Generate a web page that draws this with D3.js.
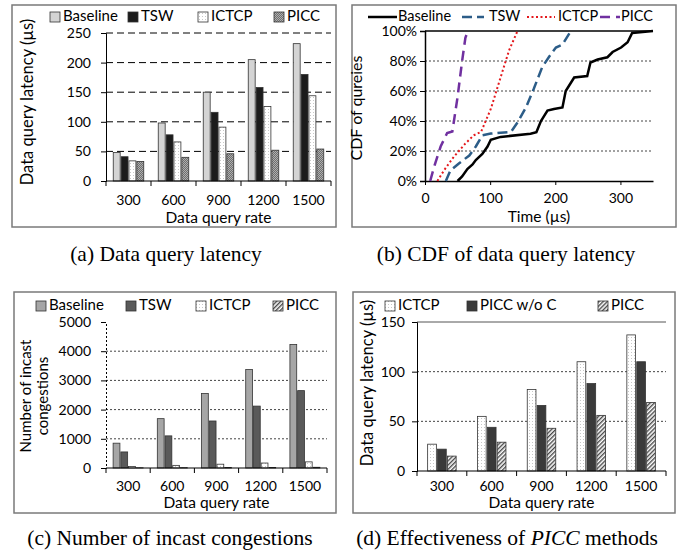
<!DOCTYPE html>
<html>
<head>
<meta charset="utf-8">
<script src="https://cdn.jsdelivr.net/npm/d3@7"></script>
<style>
  body { margin: 0; background: #fff; }
  svg text { font-family: Lato, "Open Sans", sans-serif; fill: #000; }
  .cap { font-family: "Liberation Serif", "DejaVu Serif", serif; font-size: 21.5px; }
</style>
</head>
<body>
<svg id="fig" width="688" height="554"></svg>
<script>
// ---------- data ----------
const rates = ["300", "600", "900", "1200", "1500"];

// (a) data query latency (us)
const latBaseline = [48, 98, 150, 205, 232];
const latTSW = [41, 78, 116, 158, 180];
const latICTCP = [34, 66, 91, 126, 144];
const latPICC = [33, 40, 46, 52, 54];

// (b) CDF points [time us, percent]
const cdfBaseline = [[50,0],[57,3],[65,8],[73,11],[78,14],[88,18],[96,23],[101,27.5],[116,29.4],[162,31.5],[171,32.5],[178,40],[188,47],[198,48],[211,49],[216,60],[229,69],[249,70],[254,79],[265,81],[280,82.5],[288,86],[301,89],[311,92.5],[318,98.7],[350,100]];
const cdfTSW = [[32,0],[39,7],[52,11.7],[68,17],[78,23],[88,30.5],[101,31.6],[132,32.7],[142,39],[155,49],[167,61.5],[180,76],[190,82.5],[201,89],[211,91],[224,100]];
const cdfICTCP = [[19,0],[29,7],[44,16],[62,25],[75,30.5],[86,32.7],[101,48],[116,69],[129,87],[142,100]];
const cdfPICC = [[8,0],[14,9.5],[24,23],[34,32],[42,33],[50,56],[57,80],[62,95.5],[66,100]];

// (c) number of incast congestions
const incBaseline = [850, 1690, 2550, 3370, 4230];
const incTSW = [550, 1100, 1610, 2120, 2650];
const incICTCP = [50, 90, 130, 170, 210];
const incPICC = [8, 12, 16, 20, 25];

// (d) effectiveness of PICC
const effICTCP = [27, 55, 82, 110, 137];
const effPICCwoC = [22, 44, 66, 88, 110];
const effPICC = [15, 29, 43, 56, 69];

const latTicks = [0, 50, 100, 150, 200, 250];
const cdfTicksY = [0, 20, 40, 60, 80, 100];
const cdfTicksX = [0, 100, 200, 300];
const incTicks = [0, 1000, 2000, 3000, 4000, 5000];
const effTicks = [0, 50, 100, 150];

const svg = d3.select("#fig");
const defs = svg.append("defs");

// ---------- patterns ----------
function dotPattern(id) {
  const p = defs.append("pattern").attr("id", id).attr("patternUnits", "userSpaceOnUse")
    .attr("width", 3).attr("height", 3);
  p.append("rect").attr("width", 3).attr("height", 3).attr("fill", "#fff");
  p.append("rect").attr("x", 1).attr("y", 1).attr("width", 1).attr("height", 1).attr("fill", "#c8c8c8");
}
function checkPattern(id) {
  const p = defs.append("pattern").attr("id", id).attr("patternUnits", "userSpaceOnUse")
    .attr("width", 2).attr("height", 2);
  p.append("rect").attr("width", 2).attr("height", 2).attr("fill", "#6e6e6e");
  p.append("rect").attr("width", 1).attr("height", 1).attr("fill", "#b0b0b0");
  p.append("rect").attr("x", 1).attr("y", 1).attr("width", 1).attr("height", 1).attr("fill", "#b0b0b0");
}
function hatchPattern(id) {
  const p = defs.append("pattern").attr("id", id).attr("patternUnits", "userSpaceOnUse")
    .attr("width", 3).attr("height", 3).attr("patternTransform", "rotate(45)");
  p.append("rect").attr("width", 3).attr("height", 3).attr("fill", "#fff");
  p.append("rect").attr("width", 1.4).attr("height", 3).attr("fill", "#4a4a4a");
}
dotPattern("dots");
checkPattern("check");
hatchPattern("hatch");

// ---------- frames ----------
function frame(x, y, w, h) {
  svg.append("rect").attr("x", x).attr("y", y).attr("width", w).attr("height", h)
    .attr("fill", "none").attr("stroke", "#7a7a7a").attr("stroke-width", 1.5);
}

function caption(x, y, parts) {
  const t = svg.append("text").attr("class", "cap").attr("x", x).attr("y", y).attr("text-anchor", "middle");
  parts.forEach(p => {
    t.append("tspan").text(p[0]).style("font-style", p[1] ? "italic" : "normal");
  });
}

// ---------- grouped bar chart ----------
function barChart(cfg) {
  const g = svg.append("g");
  const x = d3.scaleBand().domain(rates).range([cfg.x0, cfg.x1])
    .paddingInner(cfg.padIn).paddingOuter(cfg.padOut);
  const sub = d3.scaleBand().domain(cfg.series.map(s => s.name)).range([0, x.bandwidth()]).padding(0.12);
  const y = d3.scaleLinear().domain(cfg.domain).range([cfg.y0, cfg.y1]);

  // grid
  cfg.gridVals.forEach(v => {
    g.append("line").attr("x1", cfg.x0).attr("x2", cfg.x1).attr("y1", y(v)).attr("y2", y(v))
      .attr("stroke", cfg.gridColor).attr("stroke-width", 1).attr("stroke-dasharray", cfg.gridDash);
  });
  if (cfg.topLine) {
    g.append("line").attr("x1", cfg.x0).attr("x2", cfg.x1).attr("y1", y(cfg.domain[1])).attr("y2", y(cfg.domain[1]))
      .attr("stroke", cfg.topLine).attr("stroke-width", 1);
  }

  // bars
  cfg.series.forEach(s => {
    g.selectAll(null).data(s.values).join("rect")
      .attr("x", (d, i) => x(rates[i]) + sub(s.name))
      .attr("y", d => y(d))
      .attr("width", sub.bandwidth())
      .attr("height", d => y(0) - y(d))
      .attr("fill", s.fill)
      .attr("stroke", "#333").attr("stroke-width", 0.8);
  });

  // y axis
  const ya = g.append("g").attr("transform", `translate(${cfg.x0},0)`)
    .call(d3.axisLeft(y).tickValues(cfg.ticks).tickSize(5).tickPadding(cfg.tickPad).tickFormat(cfg.fmt || d3.format("d")));
  ya.select(".domain").attr("stroke", "#000").attr("stroke-dasharray", cfg.yDash || null);
  ya.selectAll("text").style("font-size", "14px");

  // x axis with ticks at band boundaries
  g.append("line").attr("x1", cfg.x0).attr("x2", cfg.x1).attr("y1", y(0)).attr("y2", y(0)).attr("stroke", "#000");
  const step = (cfg.x1 - cfg.x0) / rates.length;
  d3.range(rates.length + 1).forEach(i => {
    g.append("line").attr("x1", cfg.x0 + i * step).attr("x2", cfg.x0 + i * step)
      .attr("y1", y(0)).attr("y2", y(0) + 5).attr("stroke", "#000");
  });
  g.selectAll(null).data(rates).join("text")
    .attr("x", d => x(d) + x.bandwidth() / 2).attr("y", cfg.tickLabelY)
    .attr("text-anchor", "middle").attr("dominant-baseline", "middle")
    .style("font-size", "14px").text(d => d);

  // titles
  g.append("text").attr("x", (cfg.x0 + cfg.x1) / 2).attr("y", cfg.xLabelY)
    .attr("text-anchor", "middle").attr("dominant-baseline", "middle")
    .style("font-size", "15.5px").text("Data query rate");
  cfg.yLabel.forEach((line, i) => {
    g.append("text").attr("transform", `translate(${cfg.yLabelX[i]},${cfg.yLabelY}) rotate(-90)`)
      .attr("text-anchor", "middle").attr("dominant-baseline", "middle")
      .style("font-size", cfg.yLabelSize || "16.5px").text(line);
  });

  // legend
  cfg.series.forEach((s, i) => {
    g.append("rect").attr("x", cfg.legX[i]).attr("y", cfg.legY - 5).attr("width", 10).attr("height", 10)
      .attr("fill", s.fill).attr("stroke", "#333").attr("stroke-width", 0.8);
    g.append("text").attr("x", cfg.legX[i] + 13).attr("y", cfg.legY)
      .attr("dominant-baseline", "middle").style("font-size", "15px").text(s.name);
  });
}

// ---------- (a) ----------
frame(12, 5, 324, 222);
barChart({
  x0: 106, x1: 331, y0: 181, y1: 33, domain: [0, 250], ticks: latTicks,
  padIn: 0.28, padOut: 0.14, tickPad: 10,
  gridVals: [50, 100, 150, 200, 250], gridDash: "7,4", gridColor: "#000",
  series: [
    { name: "Baseline", values: latBaseline, fill: "#d4d4d4" },
    { name: "TSW", values: latTSW, fill: "#1c1c1c" },
    { name: "ICTCP", values: latICTCP, fill: "url(#dots)" },
    { name: "PICC", values: latPICC, fill: "url(#check)" }
  ],
  tickLabelY: 201, xLabelY: 219,
  yLabel: ["Data query latency (µs)"], yLabelX: [29], yLabelY: 102,
  legX: [50, 128, 198, 274], legY: 17
});

// ---------- (b) CDF ----------
frame(352, 5, 324, 222);
{
  const g = svg.append("g");
  const x = d3.scaleLinear().domain([0, 350]).range([425, 653]);
  const y = d3.scaleLinear().domain([0, 100]).range([181, 31]);
  [20, 40, 60, 80].forEach(v => {
    g.append("line").attr("x1", 425).attr("x2", 653).attr("y1", y(v)).attr("y2", y(v))
      .attr("stroke", "#444").attr("stroke-dasharray", "2,2");
  });
  g.append("line").attr("x1", 425).attr("x2", 653).attr("y1", y(100)).attr("y2", y(100)).attr("stroke", "#000").attr("stroke-width", 1.5);

  const ya = g.append("g").attr("transform", "translate(425,0)")
    .call(d3.axisLeft(y).tickValues(cdfTicksY).tickSize(5).tickPadding(3).tickFormat(d => d + "%"));
  ya.select(".domain").attr("stroke", "#000").attr("stroke-width", 1.5);
  ya.selectAll("text").style("font-size", "14px");
  const xa = g.append("g").attr("transform", "translate(0,181)")
    .call(d3.axisBottom(x).tickValues(cdfTicksX).tickSize(4).tickPadding(8).tickSizeOuter(0));
  xa.select(".domain").attr("stroke", "#000").attr("stroke-width", 1.5);
  xa.selectAll("text").style("font-size", "14px");

  const line = d3.line().x(d => x(d[0])).y(d => y(d[1]));
  const curves = [
    { name: "Baseline", data: cdfBaseline, color: "#000", dash: null, w: 2.5 },
    { name: "TSW", data: cdfTSW, color: "#2c5d88", dash: "10,5", w: 2.5 },
    { name: "ICTCP", data: cdfICTCP, color: "#e4181c", dash: "2,2.5", w: 2 },
    { name: "PICC", data: cdfPICC, color: "#7030a0", dash: "10,6", w: 2.5 }
  ];
  curves.forEach(c => {
    g.append("path").attr("d", line(c.data)).attr("fill", "none")
      .attr("stroke", c.color).attr("stroke-width", c.w).attr("stroke-dasharray", c.dash);
  });

  const legLine = [[368, 397], [462, 484], [527, 555], [600, 620]];
  const legText = [398, 489, 558, 621];
  curves.forEach((c, i) => {
    g.append("line").attr("x1", legLine[i][0]).attr("x2", legLine[i][1]).attr("y1", 17).attr("y2", 17)
      .attr("stroke", c.color).attr("stroke-width", c.w).attr("stroke-dasharray", c.dash);
    g.append("text").attr("x", legText[i]).attr("y", 17).attr("dominant-baseline", "middle")
      .style("font-size", "14.5px").text(c.name);
  });

  g.append("text").attr("x", 539).attr("y", 218).attr("text-anchor", "middle").attr("dominant-baseline", "middle")
    .style("font-size", "15.5px").text("Time (µs)");
  g.append("text").attr("transform", "translate(358,108) rotate(-90)").attr("text-anchor", "middle")
    .attr("dominant-baseline", "middle").style("font-size", "16px").text("CDF of qureies");
}

// ---------- (c) ----------
frame(14, 292, 322, 221);
barChart({
  x0: 106, x1: 327, y0: 468, y1: 322, domain: [0, 5000], ticks: incTicks,
  padIn: 0.28, padOut: 0.14, tickPad: 10, yDash: "2,2",
  gridVals: [1000, 2000, 3000, 4000], gridDash: "2,2", gridColor: "#444",
  series: [
    { name: "Baseline", values: incBaseline, fill: "#a6a6a6" },
    { name: "TSW", values: incTSW, fill: "#5a5a5a" },
    { name: "ICTCP", values: incICTCP, fill: "url(#dots)" },
    { name: "PICC", values: incPICC, fill: "url(#hatch)" }
  ],
  tickLabelY: 487, xLabelY: 504, yLabelSize: "15px",
  yLabel: ["Number of incast", "congestions"], yLabelX: [27, 44], yLabelY: 396,
  legX: [36, 126, 196, 273], legY: 306
});

// ---------- (d) ----------
frame(353, 292, 322, 221);
barChart({
  x0: 417, x1: 666, y0: 471, y1: 322, domain: [0, 150], ticks: effTicks,
  padIn: 0.38, padOut: 0.19, tickPad: 7,
  gridVals: [50, 100], gridDash: "2,2", gridColor: "#444", topLine: "#555",
  series: [
    { name: "ICTCP", values: effICTCP, fill: "url(#dots)" },
    { name: "PICC w/o C", values: effPICCwoC, fill: "#3a3a3a" },
    { name: "PICC", values: effPICC, fill: "url(#hatch)" }
  ],
  tickLabelY: 487, xLabelY: 504,
  yLabel: ["Data query latency (µs)"], yLabelX: [369], yLabelY: 383,
  legX: [385, 467, 598], legY: 306
});

// ---------- captions ----------
caption(166, 261, [["(a) Data query latency", false]]);
caption(506, 261, [["(b) CDF of data query latency", false]]);
caption(170, 545, [["(c) Number of incast congestions", false]]);
caption(507, 545, [["(d) Effectiveness of ", false], ["PICC", true], [" methods", false]]);
</script>
</body>
</html>
